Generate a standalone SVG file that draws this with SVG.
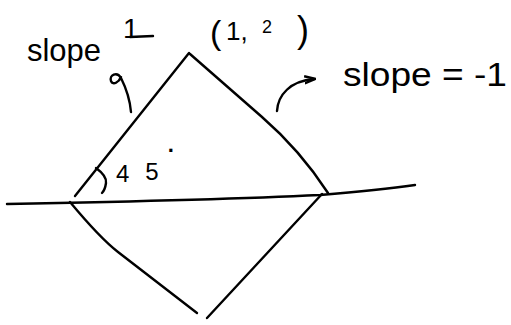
<svg xmlns="http://www.w3.org/2000/svg" width="511" height="325" viewBox="0 0 511 325">
<style>
.ink{fill:none;stroke:#000;stroke-width:2.4;stroke-linecap:round;stroke-linejoin:round}
.hw{font-family:"Liberation Sans","DejaVu Sans",sans-serif;fill:#000;font-weight:300}
</style>
<defs>
<marker id="ah" viewBox="0 0 10 10" refX="8" refY="5" markerWidth="5" markerHeight="5" orient="auto">
<path d="M0,2 L9,5 L0,8" fill="none" stroke="#000" stroke-width="2"/>
</marker>
</defs>
<rect width="511" height="325" fill="#fff"/>
<g id="shapes">
<path class="ink" d="M189,53 L75,196"/>
<path class="ink" d="M190,54 L262,117 Q300,150 328,193"/>
<path class="ink" d="M7,204 Q220,200 320,195 Q380,190 415,185"/>
<path class="ink" d="M70,202 Q100,238 118,252 L197,313"/>
<path class="ink" d="M322,194 L207,318"/>
<path class="ink" d="M96,168 Q107,176 106,183 Q105,190 102,193"/>
</g>
<g id="connectors">
<path class="ink" d="M131,112 C130,100 126,88 121,78 C117,71 109,75 111,81 C113,86 119,82 121,77"/>
<path class="ink" d="M277,111 C278,95 290,81 314,79" marker-end="url(#ah)"/>
</g>
<g id="labels">
<text class="hw" x="27" y="61" font-size="32" textLength="74" lengthAdjust="spacingAndGlyphs">slope</text>
<text class="hw" x="123" y="38" font-size="28">1</text>
<path class="ink" d="M130,37 L153,36" stroke-width="2"/>
<text class="hw" x="210" y="44" font-size="34">(</text>
<text class="hw" x="226" y="40" font-size="26">1,</text>
<text class="hw" x="262" y="33" font-size="18">2</text>
<text class="hw" x="297" y="42" font-size="36">)</text>
<text class="hw" x="343" y="86" font-size="34" textLength="164" lengthAdjust="spacingAndGlyphs">slope = -1</text>
<text class="hw" x="116" y="182" font-size="24">4<tspan dx="16" dy="-2">5</tspan><tspan dx="9" dy="-22" font-size="22" font-weight="bold">·</tspan></text>
</g>
</svg>
